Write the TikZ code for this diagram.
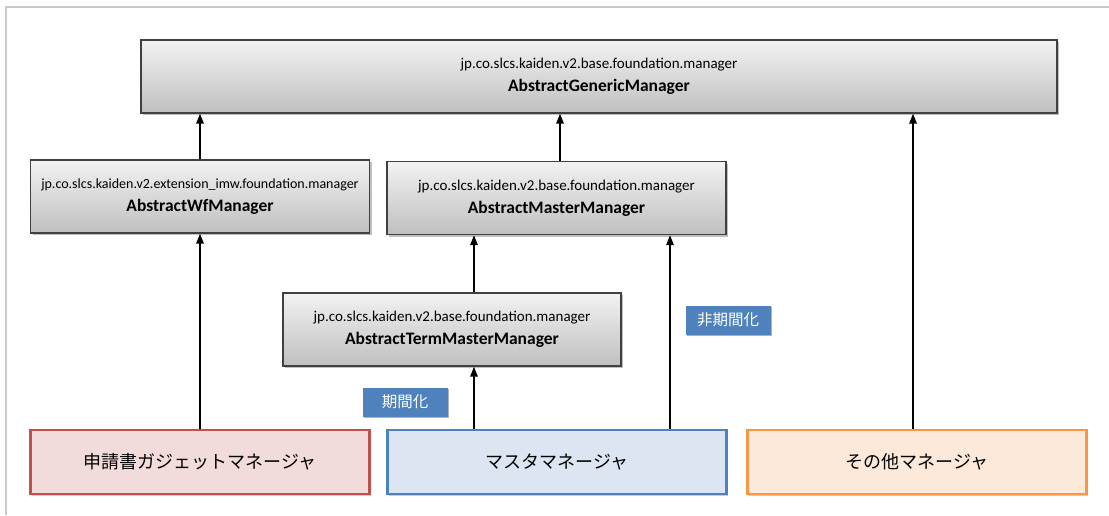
\documentclass[tikz,border=0pt]{standalone}
\usepackage{fontspec}
\setmainfont{Carlito}
\newfontfamily\jpfont{Noto Sans CJK JP}
\usetikzlibrary{shadows,arrows.meta}
\definecolor{redB}{HTML}{C0504D}
\definecolor{redF}{HTML}{F2DCDB}
\definecolor{bluB}{HTML}{4F81BD}
\definecolor{bluF}{HTML}{DCE6F2}
\definecolor{orgB}{HTML}{F79646}
\definecolor{orgF}{HTML}{FDE9D9}
\definecolor{frameC}{HTML}{C8C8C8}
\newcommand\pkgtxt[1]{{\fontsize{15}{18}\selectfont #1}}
\newcommand\pkgsmall[1]{{\fontsize{14}{18}\selectfont #1}}
\newcommand\clstxt[1]{{\fontsize{17.5}{18}\selectfont\bfseries #1}}
\tikzset{
  gbox/.style={draw=black!75, line width=1.3pt, top color=black!5, bottom color=black!25,
    minimum height=73pt, align=center, inner sep=0pt,
    drop shadow={shadow xshift=2pt, shadow yshift=-2pt, fill=black, opacity=0.25}},
  mbox/.style={line width=2.5pt, minimum width=339pt, minimum height=64pt, inner sep=0pt,
    font=\jpfont\fontsize{18}{20}\selectfont,
    drop shadow={shadow xshift=1.5pt, shadow yshift=-1.5pt, fill=black, opacity=0.2}},
  tag/.style={fill=bluB, text=white, minimum width=85pt, minimum height=29pt, inner sep=0pt,
    font=\jpfont\fontsize{15.5}{16}\selectfont,
    drop shadow={shadow xshift=1.5pt, shadow yshift=-1.5pt, fill=black, opacity=0.3}},
  arr/.style={line width=1.5pt, -{Triangle[length=10pt,width=7.5pt]}}
}
\begin{document}
\begin{tikzpicture}[x=1pt,y=-1pt]
\useasboundingbox (0,0) rectangle (1109,515);
\fill[white] (0,0) rectangle (1109,515);
\draw[frameC, line width=2pt] (6,515) -- (6,7) -- (1109,7);

\node[gbox, minimum width=916pt] (gen) at (599,76.5)
  {\pkgtxt{jp.co.slcs.kaiden.v2.base.foundation.manager}\\[7pt]\clstxt{AbstractGenericManager}};
\node[gbox, minimum width=339pt] (wf) at (200,196.5)
  {\pkgsmall{jp.co.slcs.kaiden.v2.extension\_imw.foundation.manager}\\[7pt]\clstxt{AbstractWfManager}};
\node[gbox, minimum width=339pt] (mm) at (556.5,198)
  {\pkgtxt{jp.co.slcs.kaiden.v2.base.foundation.manager}\\[7pt]\clstxt{AbstractMasterManager}};
\node[gbox, minimum width=338pt] (tm) at (452,329.5)
  {\pkgtxt{jp.co.slcs.kaiden.v2.base.foundation.manager}\\[7pt]\clstxt{AbstractTermMasterManager}};

\node[mbox, draw=redB, fill=redF] (app) at (200,462) {申請書ガジェットマネージャ};
\node[mbox, draw=bluB, fill=bluF] (mas) at (557,462) {マスタマネージャ};
\node[mbox, draw=orgB, fill=orgF] (oth) at (917,462) {その他マネージャ};

\node[tag] (lb1) at (405,402) {期間化};
\node[tag] (lb2) at (728,320) {非期間化};

\draw[arr] (wf.north) -- (wf.north |- gen.south);
\draw[arr] ([xshift=3.5pt]mm.north) -- ([xshift=3.5pt]mm.north |- gen.south);
\draw[arr] ([xshift=-4pt]oth.north) -- ([xshift=-4pt]oth.north |- gen.south);
\draw[arr] (app.north) -- (wf.south);
\draw[arr] ([xshift=22pt]tm.north) -- ([xshift=22pt]tm.north |- mm.south);
\draw[arr] ([xshift=-83pt]mas.north) -- ([xshift=-83pt]mas.north |- tm.south);
\draw[arr] ([xshift=113pt]mas.north) -- ([xshift=113pt]mas.north |- mm.south);
\end{tikzpicture}
\end{document}
